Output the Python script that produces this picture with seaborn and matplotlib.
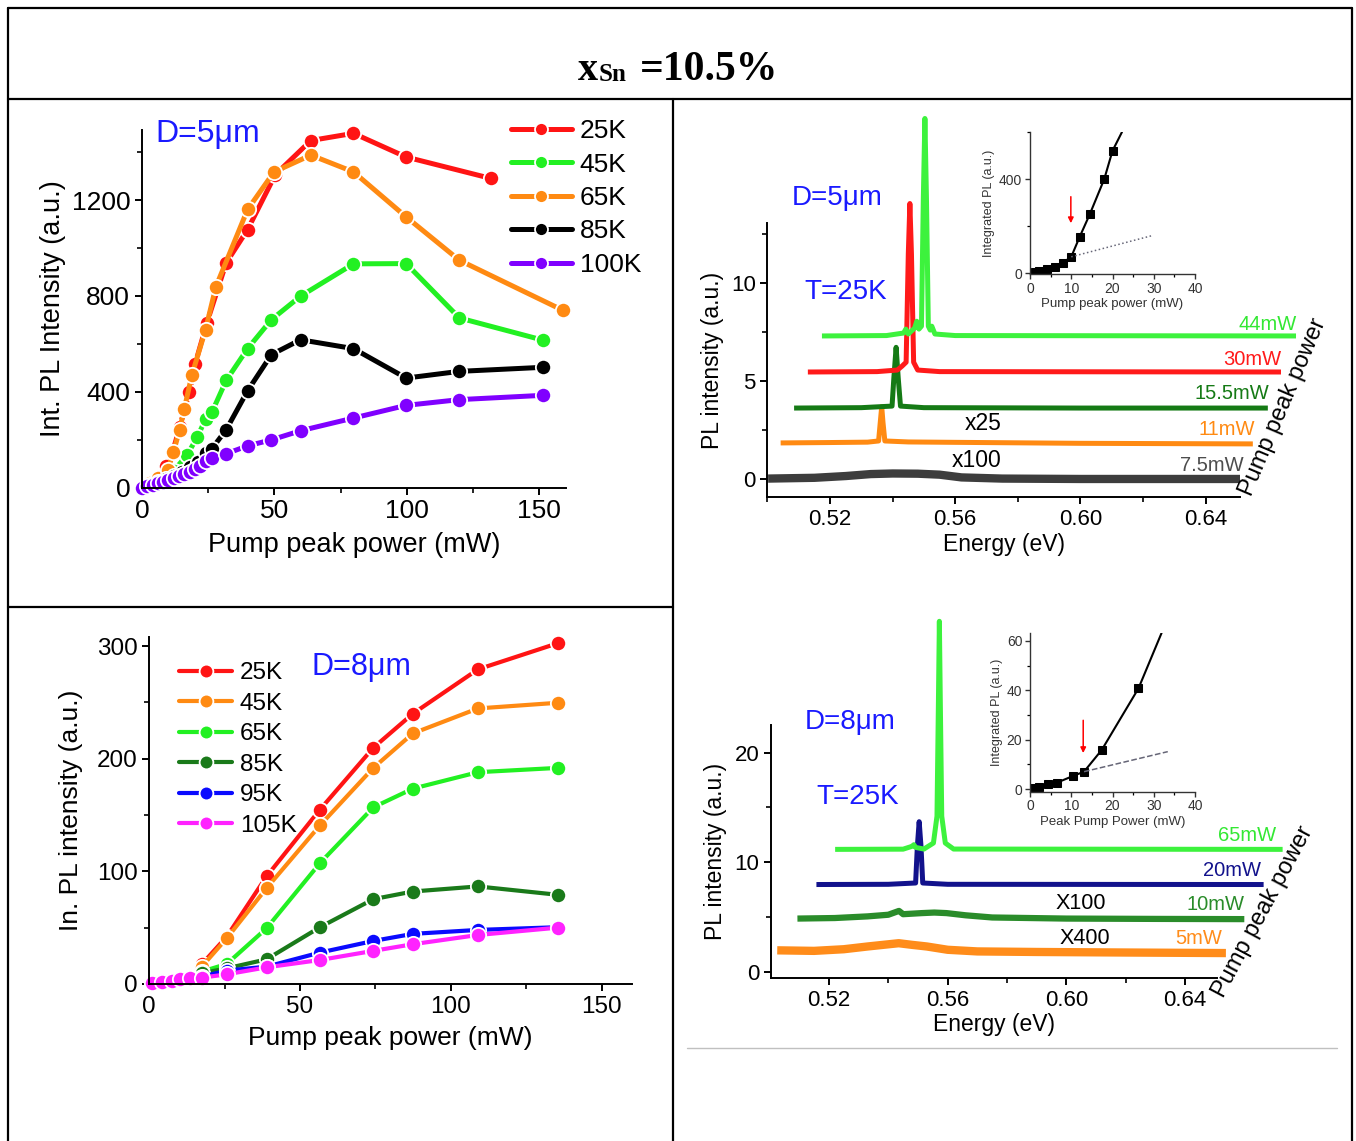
import numpy as np
import pandas as pd
import matplotlib.pyplot as plt
import seaborn as sns
from matplotlib.lines import Line2D
from matplotlib.patches import Rectangle
from matplotlib.ticker import MultipleLocator

sns.set_theme(style="ticks", rc={
    "axes.edgecolor": "black", "axes.linewidth": 1.4,
    "xtick.color": "black", "ytick.color": "black",
    "xtick.major.width": 1.4, "ytick.major.width": 1.4,
    "xtick.minor.width": 1.2, "ytick.minor.width": 1.2,
    "xtick.major.size": 5, "ytick.major.size": 5,
    "xtick.minor.size": 3.5, "ytick.minor.size": 3.5,
    "axes.facecolor": "none", "text.color": "black", "axes.labelcolor": "black",
})
plt.rcParams["font.family"] = ["Liberation Sans", "DejaVu Sans"]

# =====================================================================
# DATA - D=5um pillar, integrated PL vs pump power (top left)
# =====================================================================
d5_25K_p = [0, 3, 6, 9, 11.6, 14.2, 17.9, 20.1, 24.5, 31.8, 39.9, 50.4, 63.8, 79.9, 99.8, 131.7]
d5_25K_i = [0, 20, 45, 90, 150, 251, 399, 517, 687, 938, 1077, 1307, 1449, 1479, 1380, 1291]
d5_45K_p = [0, 3, 6, 9, 12, 16.9, 20.9, 24, 26.4, 31.8, 39.9, 48.9, 59.9, 79.9, 99.8, 119.9, 151.6]
d5_45K_i = [0, 12, 28, 45, 70, 134, 210, 286, 314, 447, 580, 701, 799, 934, 935, 708, 615]
d5_65K_p = [0, 3, 6, 9.7, 11.9, 14.2, 16, 18.8, 24, 27.9, 39.9, 49.9, 63.8, 79.9, 99.8, 119.9, 159]
d5_65K_i = [0, 18, 40, 74, 148, 241, 329, 468, 659, 838, 1161, 1318, 1388, 1318, 1130, 949, 740]
d5_85K_p = [0, 3, 6, 9, 12, 15, 18, 21, 24, 26.4, 31.8, 39.9, 48.9, 59.9, 79.9, 99.8, 119.9, 151.6]
d5_85K_i = [0, 10, 22, 35, 50, 65, 85, 105, 144, 162, 241, 404, 555, 617, 580, 457, 485, 502]
d5_100K_p = [0, 2, 4, 6, 8, 10, 12, 14, 16, 18, 20, 22, 24, 26.4, 31.8, 39.9, 48.9, 59.9, 79.9, 99.8, 119.9, 151.6]
d5_100K_i = [0, 5, 10, 17, 24, 31, 40, 48, 57, 66, 77, 88, 109, 123, 141, 174, 199, 237, 290, 343, 367, 385]

# =====================================================================
# DATA - D=8um pillar (bottom left)
# =====================================================================
d8_power = [0.8, 4.1, 7.4, 10.2, 13.5, 17.4, 25.7, 38.9, 56.6, 74.3, 87.4, 109, 135.4]
d8_25K = [1.5, 3, 4.5, 6, 8, 17.5, 42.1, 95.5, 154.8, 209.7, 239.9, 279.3, 302.4]
d8_45K = [1.4, 2.8, 4.2, 5.6, 7.5, 15.4, 40.6, 85.1, 140.8, 191.8, 222.4, 244.6, 249.6]
d8_65K = [1.3, 2.6, 3.9, 5.2, 7, 11, 17.8, 49.5, 107.3, 156.8, 173.4, 188, 191.8]
d8_85K = [1.2, 2.4, 3.6, 4.8, 6.5, 9.5, 13.9, 21.9, 50.4, 75.3, 82.1, 86.6, 79.2]
d8_95K = [1.1, 2.2, 3.3, 4.4, 5.8, 6.5, 11.9, 15.4, 27.9, 38.2, 44.5, 48, 50.4]
d8_105K = [1.0, 2.0, 3.0, 4.0, 5.3, 5.6, 8.6, 14.8, 21.3, 29.4, 35.3, 43.5, 50]

# =====================================================================
# DATA - spectra at 25K, D=5um (top right)
# =====================================================================
s5_7p5_E = [0.5002, 0.515, 0.525, 0.533, 0.540, 0.548, 0.555, 0.562, 0.575, 0.60, 0.63, 0.651]
s5_7p5_I = [0.02, 0.06, 0.15, 0.25, 0.28, 0.27, 0.22, 0.08, 0.02, 0.0, 0.0, 0.0]
s5_11_E = [0.5042, 0.52, 0.532, 0.5355, 0.5361, 0.5365, 0.5369, 0.5375, 0.545, 0.56, 0.60, 0.6551]
s5_11_I = [1.84, 1.86, 1.88, 1.94, 3.0, 3.69, 2.9, 1.94, 1.89, 1.87, 1.82, 1.79]
s5_155_E = [0.5085, 0.530, 0.5398, 0.5404, 0.5411, 0.5418, 0.5425, 0.550, 0.60, 0.6599]
s5_155_I = [3.62, 3.64, 3.72, 5.2, 6.72, 5.1, 3.72, 3.64, 3.62, 3.62]
s5_30_E = [0.5129, 0.535, 0.5415, 0.5430, 0.5443, 0.5450, 0.5455, 0.5460, 0.5467, 0.5480, 0.555, 0.6641]
s5_30_I = [5.46, 5.48, 5.56, 5.76, 5.96, 11.5, 14.06, 11.5, 5.96, 5.56, 5.48, 5.46]
s5_44_E = [0.5174, 0.538, 0.5435, 0.5442, 0.5450, 0.5470, 0.5477, 0.5484, 0.5492, 0.5498,
           0.5503, 0.5508, 0.5514, 0.5520, 0.5525, 0.5535, 0.56, 0.6689]
s5_44_I = [7.3, 7.32, 7.45, 7.65, 7.4, 7.7, 8.05, 7.65, 7.8, 14.3,
           18.4, 14.3, 7.8, 7.6, 7.8, 7.4, 7.32, 7.3]

# inset: integrated PL vs pump peak power (D=5um)
ins5_power = [0.3, 1.2, 2.2, 4, 6, 8, 10, 12, 14.5, 18, 20, 22.3]
ins5_pl = [2, 5, 8, 18, 28, 45, 70, 153, 251, 400, 520, 600]
ins5_fit_p = [10, 29.6]
ins5_fit_pl = [70, 160]
ins5_arrow = (9.9, 337, 201)

# =====================================================================
# DATA - spectra at 25K, D=8um (bottom right)
# =====================================================================
s8_5_E = [0.5026, 0.515, 0.525, 0.533, 0.540, 0.5435, 0.548, 0.553, 0.560, 0.57, 0.59, 0.62, 0.6537]
s8_5_I = [1.95, 1.9, 2.05, 2.3, 2.5, 2.6, 2.45, 2.3, 2.0, 1.85, 1.8, 1.75, 1.7]
s8_10_E = [0.5094, 0.522, 0.533, 0.540, 0.5436, 0.545, 0.5513, 0.5555, 0.5596, 0.566, 0.575, 0.60, 0.63, 0.6599]
s8_10_I = [4.85, 4.9, 5.05, 5.2, 5.55, 5.25, 5.35, 5.4, 5.35, 5.15, 4.95, 4.85, 4.82, 4.8]
s8_20_E = [0.5158, 0.540, 0.5492, 0.5498, 0.5504, 0.5510, 0.5516, 0.560, 0.6664]
s8_20_I = [7.96, 7.98, 8.1, 11.5, 13.7, 11.5, 8.1, 7.98, 7.96]
s8_65_E = [0.5221, 0.545, 0.5480, 0.5486, 0.5492, 0.552, 0.5552, 0.5564, 0.5569, 0.5572,
           0.5575, 0.5580, 0.5592, 0.562, 0.6728]
s8_65_I = [11.17, 11.19, 11.45, 11.6, 11.35, 11.2, 11.75, 14.2, 25, 32.0,
           25, 14.2, 11.75, 11.2, 11.17]

ins8_power = [0.2, 2.2, 4.4, 6.6, 10.5, 13.1, 17.4, 26.3, 31.9]
ins8_pl = [0.4, 1.1, 2.0, 2.7, 5.4, 7.1, 15.9, 40.8, 63.2]
ins8_fit_p = [13.1, 33.4]
ins8_fit_pl = [7.1, 15.2]
ins8_arrow = (12.9, 29, 13.5)

# =====================================================================
# FIGURE
# =====================================================================
W, H = 1356, 1141
fig = plt.figure(figsize=(W / 100, H / 100), dpi=100)
fx = lambda px: px / W
fy = lambda py: 1 - py / H


def line_fig(xs, ys, **kw):
    fig.add_artist(Line2D([fx(x) for x in xs], [fy(y) for y in ys],
                          transform=fig.transFigure, **kw))


# table frame
black = dict(color="black", lw=1.6)
line_fig([8, 1352], [8, 8], **black)
line_fig([8, 1352], [99, 99], **black)
line_fig([8, 8], [8, 1141], **black)
line_fig([1352, 1352], [8, 1141], **black)
line_fig([673, 673], [99, 1141], **black)
line_fig([8, 673], [607, 607], **black)
line_fig([687, 1337], [1048, 1048], color="#c0c0c0", lw=1)

serif = ["Liberation Serif", "DejaVu Serif"]
fig.text(fx(578), fy(80), "x", fontsize=29, weight="bold", family=serif, va="baseline")
fig.text(fx(599), fy(81), "Sn", fontsize=18, weight="bold", family=serif, va="baseline")
fig.text(fx(640), fy(80), "=10.5%", fontsize=30, weight="bold", family=serif, va="baseline")


def power_axes(ax, series, lw, ms):
    for label, xs, ys, color in series:
        sns.lineplot(x=xs, y=ys, ax=ax, color=color, lw=lw, marker="o", markersize=ms,
                     markeredgecolor="white", markeredgewidth=1.3, label=label, clip_on=False)
    sns.despine(ax=ax)


# ---------------- top left ----------------
ax1 = fig.add_axes([fx(142), fy(487.5), 423.5 / W, 358 / H])
power_axes(ax1, [
    ("25K", d5_25K_p, d5_25K_i, "#ff1414"),
    ("45K", d5_45K_p, d5_45K_i, "#22f022"),
    ("65K", d5_65K_p, d5_65K_i, "#ff8a12"),
    ("85K", d5_85K_p, d5_85K_i, "#000000"),
    ("100K", d5_100K_p, d5_100K_i, "#8000ff"),
], lw=3.6, ms=11)
ax1.set_xlim(0, 160)
ax1.set_ylim(0, 1495)
ax1.xaxis.set_major_locator(MultipleLocator(50))
ax1.xaxis.set_minor_locator(MultipleLocator(25))
ax1.yaxis.set_major_locator(MultipleLocator(400))
ax1.yaxis.set_minor_locator(MultipleLocator(200))
ax1.tick_params(labelsize=19)
ax1.set_xlabel("Pump peak power (mW)", fontsize=19.5, labelpad=6)
ax1.set_ylabel("Int. PL Intensity (a.u.)", fontsize=19.5, labelpad=4)
ax1.legend(loc="upper left", bbox_to_anchor=(fx(511), fy(119)), bbox_transform=fig.transFigure,
           frameon=False, fontsize=19, handlelength=2.3, handletextpad=0.3,
           labelspacing=0.36, borderpad=0, borderaxespad=0, markerscale=0.85)
ax1.text(fx(155), fy(134), "D=5μm", transform=fig.transFigure, color="#1a1aff", fontsize=23,
         ha="left", va="center")
# the legend of the original is cut at the panel edge
fig.add_artist(Rectangle((fx(642), fy(290)), (670 - 642) / W, (290 - 102) / H,
                         transform=fig.transFigure, facecolor="white", edgecolor="none", zorder=5))

# ---------------- bottom left ----------------
ax2 = fig.add_axes([fx(149.3), fy(984), (631.7 - 149.3) / W, (984 - 637) / H])
power_axes(ax2, [
    ("25K", d8_power, d8_25K, "#ff1414"),
    ("45K", d8_power, d8_45K, "#ff8a12"),
    ("65K", d8_power, d8_65K, "#22f022"),
    ("85K", d8_power, d8_85K, "#1a7a1a"),
    ("95K", d8_power, d8_95K, "#0a0aff"),
    ("105K", d8_power, d8_105K, "#ff22ff"),
], lw=3.0, ms=11)
ax2.set_xlim(0, 160)
ax2.set_ylim(0, 308)
ax2.xaxis.set_major_locator(MultipleLocator(50))
ax2.xaxis.set_minor_locator(MultipleLocator(25))
ax2.yaxis.set_major_locator(MultipleLocator(100))
ax2.yaxis.set_minor_locator(MultipleLocator(50))
ax2.tick_params(labelsize=17.5)
ax2.set_xlabel("Pump peak power (mW)", fontsize=19, labelpad=6)
ax2.set_ylabel("In. PL intensity (a.u.)", fontsize=19, labelpad=10)
ax2.legend(loc="upper left", bbox_to_anchor=(fx(179), fy(662)), bbox_transform=fig.transFigure,
           frameon=False, fontsize=17.5, handlelength=2.2, handletextpad=0.3,
           labelspacing=0.35, borderpad=0, borderaxespad=0, markerscale=0.9)
ax2.text(fx(312), fy(667), "D=8μm", transform=fig.transFigure, color="#1a1aff", fontsize=22,
         ha="left", va="center")


def spectra_axes(ax, traces):
    for E, I, color, lw in traces:
        ax.plot(E, I, color=color, lw=lw, clip_on=False, solid_capstyle="butt")
    sns.despine(ax=ax)
    ax.tick_params(labelsize=16)
    ax.set_xlabel("Energy (eV)", fontsize=16.5, labelpad=2)
    ax.set_ylabel("PL intensity (a.u.)", fontsize=16.5, labelpad=5)
    ax.xaxis.set_major_locator(MultipleLocator(0.04))
    ax.xaxis.set_minor_locator(MultipleLocator(0.02))
    ax.xaxis.set_major_formatter(plt.FormatStrFormatter("%.2f"))


def inset_axes(rect, xs, ys, fit_x, fit_y, fit_style, arrow, n_marks, ylim, ymaj, ymin, xlabel):
    ins = fig.add_axes(rect)
    sns.lineplot(x=xs, y=ys, ax=ins, color="black", lw=1.5, marker="s", markersize=5.5,
                 markeredgecolor="black", markevery=list(range(n_marks)))
    ins.plot(fit_x, fit_y, fit_style, color="#666677", lw=1.1)
    ins.annotate("", xy=(arrow[0], arrow[2]), xytext=(arrow[0], arrow[1]),
                 arrowprops=dict(arrowstyle="-|>", color="red", lw=1.1, mutation_scale=8))
    ins.set_xlim(0, 40)
    ins.set_ylim(*ylim)
    ins.xaxis.set_major_locator(MultipleLocator(10))
    ins.xaxis.set_minor_locator(MultipleLocator(5))
    ins.yaxis.set_major_locator(MultipleLocator(ymaj))
    ins.yaxis.set_minor_locator(MultipleLocator(ymin))
    for sp in ins.spines.values():
        sp.set_linewidth(1.0)
        sp.set_color("#333333")
    ins.tick_params(labelsize=10, colors="#333333", width=1.0, length=3.5, pad=2)
    ins.tick_params(which="minor", length=2.2, width=0.9)
    ins.set_xlabel(xlabel, fontsize=9.5, color="#333333", labelpad=2)
    ins.set_ylabel("Integrated PL (a.u.)", fontsize=9, color="#333333", labelpad=3)
    sns.despine(ax=ins)
    return ins


# ---------------- top right ----------------
ax3 = fig.add_axes([fx(767.5), fy(497), (1240 - 767.5) / W, (497 - 223.5) / H])
spectra_axes(ax3, [
    (s5_7p5_E, s5_7p5_I, "#3d3d3d", 6.0),
    (s5_11_E, s5_11_I, "#ff8a12", 3.6),
    (s5_155_E, s5_155_I, "#157a15", 3.6),
    (s5_30_E, s5_30_I, "#ff1a1a", 3.6),
    (s5_44_E, s5_44_I, "#3df23d", 3.6),
])
ax3.set_xlim(0.5, 0.651)
ax3.set_ylim(-0.92, 13.04)
ax3.yaxis.set_major_locator(MultipleLocator(5))
ax3.yaxis.set_minor_locator(MultipleLocator(2.5))
for txt, e, y, c in [("44mW", 0.6692, 7.91, "#33e833"), ("30mW", 0.6641, 6.12, "#ff1a1a"),
                     ("15.5mW", 0.6605, 4.34, "#157a15"), ("11mW", 0.6558, 2.5, "#ff8a12"),
                     ("7.5mW", 0.6522, 0.71, "#4d4d4d")]:
    ax3.text(e, y, txt, color=c, fontsize=14.5, ha="right", va="center", clip_on=False)
ax3.text(0.5222, 14.34, "D=5μm", color="#1a1aff", fontsize=20, ha="center", va="center")
ax3.text(0.5251, 9.54, "T=25K", color="#1a1aff", fontsize=20, ha="center", va="center")
ax3.text(0.5688, 2.81, "x25", fontsize=16.5, ha="center", va="center")
ax3.text(0.5669, 0.92, "x100", fontsize=16.5, ha="center", va="center")
ax3.text(0.6647, 3.67, "Pump peak power", fontsize=17, rotation=67, ha="center", va="center",
         rotation_mode="anchor", clip_on=False)

inset_axes([fx(1030), fy(274), 165 / W, (274 - 132) / H], ins5_power, ins5_pl,
           ins5_fit_p, ins5_fit_pl, ":", ins5_arrow, 11, (-3, 600), 400, 200,
           "Pump peak power (mW)")

# ---------------- bottom right ----------------
ax4 = fig.add_axes([fx(771), fy(977.7), (1217 - 771) / W, (977.7 - 725) / H])
spectra_axes(ax4, [
    (s8_5_E, s8_5_I, "#ff8c1a", 6.0),
    (s8_10_E, s8_10_I, "#2a8c2a", 4.5),
    (s8_20_E, s8_20_I, "#12128c", 3.6),
    (s8_65_E, s8_65_I, "#3df23d", 3.6),
])
ax4.set_xlim(0.5005, 0.6507)
ax4.set_ylim(-0.55, 22.53)
ax4.yaxis.set_major_locator(MultipleLocator(10))
ax4.yaxis.set_minor_locator(MultipleLocator(5))
for txt, e, y, c in [("65mW", 0.6707, 12.48, "#33e833"), ("20mW", 0.6654, 9.2, "#12128c"),
                     ("10mW", 0.6600, 6.18, "#2a8c2a"), ("5mW", 0.6523, 2.99, "#ff8c1a")]:
    ax4.text(e, y, txt, color=c, fontsize=14.5, ha="right", va="center", clip_on=False)
ax4.text(0.5272, 22.8, "D=8μm", color="#1a1aff", fontsize=20, ha="center", va="center", clip_on=False)
ax4.text(0.5298, 15.96, "T=25K", color="#1a1aff", fontsize=20, ha="center", va="center")
ax4.text(0.6048, 6.19, "X100", fontsize=15.5, ha="center", va="center")
ax4.text(0.6061, 2.99, "X400", fontsize=15.5, ha="center", va="center")
ax4.text(0.6661, 5.46, "Pump peak power", fontsize=17, rotation=62, ha="center", va="center",
         rotation_mode="anchor", clip_on=False)

inset_axes([fx(1030), fy(791.7), 165 / W, (791.7 - 632.7) / H], ins8_power, ins8_pl,
           ins8_fit_p, ins8_fit_pl, "--", ins8_arrow, 8, (-1, 63.3), 20, 10,
           "Peak Pump Power (mW)")

fig.savefig("out.png", dpi=100)
